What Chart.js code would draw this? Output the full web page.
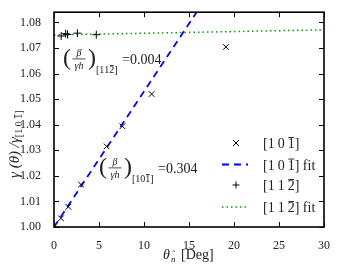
<!DOCTYPE html>
<html>
<head>
<meta charset="utf-8">
<script src="https://cdn.jsdelivr.net/npm/chart.js@4/dist/chart.umd.min.js"></script>
<style>
  html, body { margin: 0; padding: 0; background: #fff; }
  #wrap { width: 338px; height: 271px; }
</style>
</head>
<body>
<div id="wrap"><canvas id="gamma"></canvas></div>
<script>
// [1 0 -1] measurements
const x101 = [0.78, 1.6, 3.0, 5.85, 7.6, 10.85, 19.1];
const y101 = [1.0034, 1.0079, 1.0166, 1.0315, 1.0394, 1.0520, 1.0704];
// [1 1 -2] measurements
const x112 = [0.8, 1.3, 1.5, 2.6, 4.7];
const y112 = [1.0747, 1.0756, 1.0753, 1.0758, 1.0752];
// fit lines (endpoints)
const fitX = [0, 30];
const fit101 = [1.000, 1.159];
const fit112 = [1.0751, 1.0771];

const xTicks = [0, 5, 10, 15, 20, 25, 30];
const yTicks = [1.00, 1.01, 1.02, 1.03, 1.04, 1.05, 1.06, 1.07, 1.08];

const SERIF = '"Liberation Serif", "DejaVu Serif", serif';

const pts = (xs, ys) => xs.map((x, i) => ({ x: x, y: ys[i] }));

// frame, inward ticks on all sides
const framePlugin = {
  id: 'frame',
  afterDraw(chart) {
    const ctx = chart.ctx;
    const a = chart.chartArea;
    const xs = chart.scales.x, ys = chart.scales.y;
    ctx.save();
    ctx.strokeStyle = '#000';
    ctx.lineWidth = 1;
    xTicks.forEach(v => {
      const px = Math.round(xs.getPixelForValue(v)) + 0.5;
      ctx.beginPath();
      ctx.moveTo(px, a.bottom); ctx.lineTo(px, a.bottom - 5);
      ctx.moveTo(px, a.top); ctx.lineTo(px, a.top + 5);
      ctx.stroke();
    });
    yTicks.forEach(v => {
      const py = Math.round(ys.getPixelForValue(v)) + 0.5;
      ctx.beginPath();
      ctx.moveTo(a.left, py); ctx.lineTo(a.left + 5, py);
      ctx.moveTo(a.right, py); ctx.lineTo(a.right - 5, py);
      ctx.stroke();
    });
    ctx.lineWidth = 1.6;
    ctx.strokeRect(a.left, a.top, a.right - a.left, a.bottom - a.top);
    ctx.restore();
  }
};

// draws "[a b c]" with a bar over the last index; returns end x
function miller(ctx, chars, x, y, size, gap) {
  ctx.font = size + 'px ' + SERIF;
  let cx = x;
  ctx.fillText('[', cx, y);
  cx += ctx.measureText('[').width;
  chars.forEach((c, i) => {
    const w = ctx.measureText(c).width;
    ctx.fillText(c, cx, y);
    if (i === chars.length - 1) {
      ctx.fillRect(cx + w * 0.1, y - size * 0.78, w * 0.8, Math.max(0.8, size * 0.07));
    }
    cx += w + (i < chars.length - 1 ? gap : 0);
  });
  ctx.fillText(']', cx, y);
  return cx + ctx.measureText(']').width;
}

// fraction label (beta / gamma h)_sub = val
function fracLabel(ctx, x, y, sub, val) {
  ctx.save();
  ctx.fillStyle = '#222';
  ctx.textBaseline = 'middle';
  ctx.textAlign = 'left';
  ctx.font = '24px ' + SERIF;
  ctx.fillText('(', x, y);
  ctx.fillText(')', x + 25, y);
  ctx.textAlign = 'center';
  ctx.font = 'italic 10px ' + SERIF;
  ctx.fillText('\u03B2', x + 16, y - 6);
  ctx.fillText('\u03B3h', x + 16, y + 7);
  ctx.fillRect(x + 9.5, y - 0.5, 13, 0.8);
  ctx.textAlign = 'left';
  ctx.textBaseline = 'alphabetic';
  miller(ctx, sub, x + 33, y + 14, 10, 0);
  ctx.font = '14px ' + SERIF;
  ctx.textBaseline = 'middle';
  ctx.fillText(val, x + 59, y + 1);
  ctx.restore();
}

const textPlugin = {
  id: 'texts',
  afterDraw(chart) {
    const ctx = chart.ctx;
    fracLabel(ctx, 63, 59, ['1', '1', '2'], '=0.004');
    fracLabel(ctx, 99, 168, ['1', '0', '1'], '=0.304');

    // legend
    const mx = 236, tx = 263;
    const rows = [143, 164.5, 185, 207];
    ctx.save();
    ctx.strokeStyle = '#000';
    ctx.lineWidth = 1;
    let y = rows[0];
    ctx.beginPath();
    ctx.moveTo(mx - 3, y - 3); ctx.lineTo(mx + 3, y + 3);
    ctx.moveTo(mx + 3, y - 3); ctx.lineTo(mx - 3, y + 3);
    ctx.stroke();
    y = rows[1];
    ctx.strokeStyle = '#0000ff';
    ctx.lineWidth = 1.8;
    ctx.setLineDash([7, 5]);
    ctx.beginPath(); ctx.moveTo(222, y); ctx.lineTo(248, y); ctx.stroke();
    y = rows[2];
    ctx.setLineDash([]);
    ctx.strokeStyle = '#000';
    ctx.lineWidth = 1;
    ctx.beginPath();
    ctx.moveTo(mx - 3.5, y); ctx.lineTo(mx + 3.5, y);
    ctx.moveTo(mx, y - 3.5); ctx.lineTo(mx, y + 3.5);
    ctx.stroke();
    y = rows[3];
    ctx.strokeStyle = '#00a000';
    ctx.lineWidth = 1.5;
    ctx.setLineDash([1.5, 3]);
    ctx.beginPath(); ctx.moveTo(222, y); ctx.lineTo(248, y); ctx.stroke();
    ctx.setLineDash([]);

    ctx.fillStyle = '#222';
    ctx.textBaseline = 'alphabetic';
    ctx.textAlign = 'left';
    const legendChars = [['1', '0', '1'], ['1', '0', '1'], ['1', '1', '2'], ['1', '1', '2']];
    legendChars.forEach((c, i) => {
      const end = miller(ctx, c, tx, rows[i] + 5, 14, 3);
      if (i % 2 === 1) {
        ctx.font = '14px ' + SERIF;
        ctx.fillText(' fit', end, rows[i] + 5);
      }
    });

    // x axis title
    ctx.font = 'italic 14px ' + SERIF;
    ctx.fillText('\u03B8', 163, 259);
    ctx.font = 'italic 9px ' + SERIF;
    ctx.fillText('n', 171, 262);
    ctx.fillText('\u02C6', 171.5, 257);
    ctx.font = '14px ' + SERIF;
    ctx.fillText('[Deg]', 181, 259);

    // y axis title
    ctx.translate(19, 131);
    ctx.rotate(-Math.PI / 2);
    ctx.font = 'italic 15px ' + SERIF;
    const main = '\u03B3 (\u03B8) /\u03B3';
    const w1 = ctx.measureText(main).width;
    ctx.fillText(main, -47, 0);
    miller(ctx, ['1', '0', '1'], -47 + w1, 3, 10, 2.5);
    ctx.restore();
  }
};

const data = {
  datasets: [
    {
      label: '[1 0 -1]',
      data: pts(x101, y101),
      pointStyle: 'crossRot',
      pointRadius: 4,
      borderColor: '#000',
      borderWidth: 1,
      showLine: false
    },
    {
      label: '[1 0 -1] fit',
      data: pts(fitX, fit101),
      showLine: true,
      pointRadius: 0,
      borderColor: '#0000ff',
      borderWidth: 1.8,
      borderDash: [7, 5]
    },
    {
      label: '[1 1 -2]',
      data: pts(x112, y112),
      pointStyle: 'cross',
      pointRadius: 4,
      borderColor: '#000',
      borderWidth: 1,
      showLine: false
    },
    {
      label: '[1 1 -2] fit',
      data: pts(fitX, fit112),
      showLine: true,
      pointRadius: 0,
      borderColor: '#00a000',
      borderWidth: 1.5,
      borderDash: [1.5, 3]
    }
  ]
};

const config = {
  type: 'scatter',
  data: data,
  options: {
    responsive: true,
    maintainAspectRatio: false,
    animation: false,
    layout: { padding: { top: 11, right: 14, left: 0, bottom: 0 } },
    plugins: {
      legend: { display: false },
      tooltip: { enabled: false }
    },
    scales: {
      x: {
        type: 'linear',
        min: 0,
        max: 30,
        grid: { display: false },
        border: { display: false },
        afterBuildTicks: s => { s.ticks = xTicks.map(v => ({ value: v })); },
        afterFit: s => { s.height = 44; },
        ticks: {
          color: '#222',
          font: { family: SERIF, size: 12 },
          padding: 4,
          maxRotation: 0,
          callback: v => String(v)
        }
      },
      y: {
        min: 1.0,
        max: 1.084,
        grid: { display: false },
        border: { display: false },
        afterBuildTicks: s => { s.ticks = yTicks.map(v => ({ value: v })); },
        afterFit: s => { s.width = 54; },
        ticks: {
          color: '#222',
          font: { family: SERIF, size: 12 },
          padding: 5,
          callback: v => v.toFixed(2)
        }
      }
    }
  },
  plugins: [framePlugin, textPlugin]
};

new Chart(document.getElementById('gamma').getContext('2d'), config);
</script>
</body>
</html>
